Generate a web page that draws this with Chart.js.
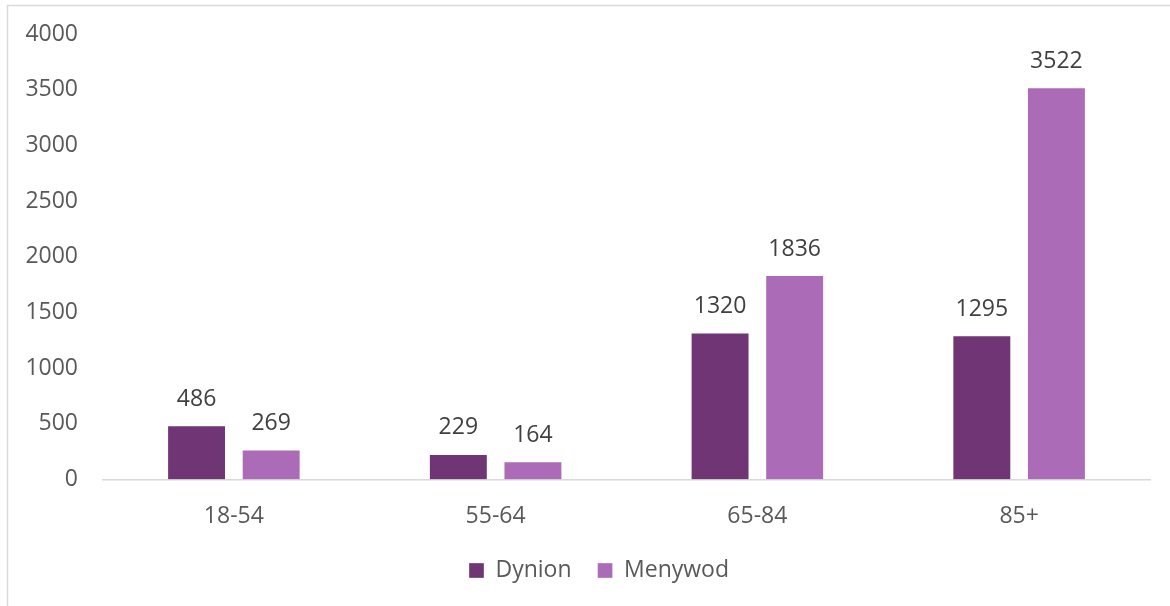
<!DOCTYPE html>
<html lang="cy">
<head>
<meta charset="UTF-8" />
<title>Dynion a Menywod yn ôl oed</title>
<style>
  body {
    margin: 0;
    background: #ffffff;
  }
  .wrap {
    position: relative;
    width: 1170px;
    height: 606px;
  }
</style>
</head>
<body>
<div class="wrap">
  <canvas id="ageChart" width="1170" height="606"></canvas>
</div>

<script src="https://cdn.jsdelivr.net/npm/chart.js"></script>
<script>
  // Age groups and counts per series
  const ageGroups = ['18-54', '55-64', '65-84', '85+'];
  const dynion = [486, 229, 1320, 1295];
  const menywod = [269, 164, 1836, 3522];
  const yMin = 0;
  const yMax = 4000;
  const yStep = 500;

  const textGrey = '#595959';
  const labelGrey = '#404040';
  const fontFamily = '"Open Sans", "Liberation Sans", sans-serif';
  const fontSize = 23;

  // thin grey frame on the left and top edges
  const framePlugin = {
    id: 'frame',
    beforeDraw(chart) {
      const ctx = chart.ctx;
      ctx.save();
      ctx.strokeStyle = '#D9D9D9';
      ctx.lineWidth = 1.5;
      ctx.beginPath();
      ctx.moveTo(7.5, 606);
      ctx.lineTo(7.5, 5.5);
      ctx.lineTo(1170, 5.5);
      ctx.stroke();
      ctx.restore();
    }
  };

  // nudge the legend so it sits centred on the whole frame
  const legendShift = {
    id: 'legendShift',
    afterLayout(chart) {
      if (chart.legend) {
        chart.legend.left += 24;
        chart.legend.right += 24;
      }
    }
  };

  // value labels above each bar
  const valueLabels = {
    id: 'valueLabels',
    afterDatasetsDraw(chart) {
      const ctx = chart.ctx;
      ctx.save();
      ctx.font = fontSize + 'px ' + fontFamily;
      ctx.fillStyle = labelGrey;
      ctx.textAlign = 'center';
      ctx.textBaseline = 'middle';
      chart.data.datasets.forEach((ds, i) => {
        chart.getDatasetMeta(i).data.forEach((bar, j) => {
          ctx.fillText(String(ds.data[j]), bar.x, bar.y - 26);
        });
      });
      ctx.restore();
    }
  };

  new Chart(document.getElementById('ageChart'), {
    type: 'bar',
    data: {
      labels: ageGroups,
      datasets: [
        {
          label: 'Dynion',
          data: dynion,
          backgroundColor: '#6F3574',
          borderColor: 'rgba(255,255,255,0.35)',
          borderWidth: 1
        },
        {
          label: 'Menywod',
          data: menywod,
          backgroundColor: '#AC6BB6',
          borderColor: 'rgba(255,255,255,0.35)',
          borderWidth: 1
        }
      ]
    },
    options: {
      responsive: false,
      animation: false,
      categoryPercentage: 0.57,
      barPercentage: 0.79,
      layout: {
        padding: { left: 0, right: 20, top: 34, bottom: 14 }
      },
      plugins: {
        legend: {
          position: 'bottom',
          labels: {
            boxWidth: 15,
            boxHeight: 15,
            padding: 26,
            color: textGrey,
            font: { family: fontFamily, size: fontSize }
          }
        },
        tooltip: { enabled: false }
      },
      scales: {
        x: {
          grid: { display: false, drawTicks: false },
          border: { color: '#D9D9D9', width: 1.5 },
          afterFit(scale) { scale.height -= 20; },
          ticks: {
            color: textGrey,
            padding: 23,
            font: { family: fontFamily, size: fontSize }
          }
        },
        y: {
          min: yMin,
          max: yMax,
          grid: { display: false, drawTicks: false },
          border: { display: false },
          afterFit(scale) {
            scale.width = 103;
            scale.paddingTop = 0;
          },
          ticks: {
            stepSize: yStep,
            color: textGrey,
            padding: 25,
            font: { family: fontFamily, size: fontSize },
            callback: (v) => String(v)
          }
        }
      }
    },
    plugins: [framePlugin, legendShift, valueLabels]
  });
</script>
</body>
</html>
